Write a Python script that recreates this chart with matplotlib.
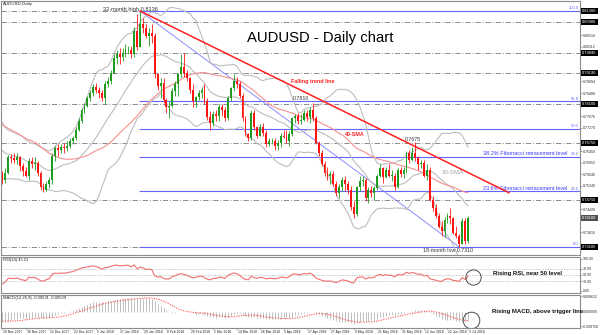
import numpy as np
import pandas as pd
import matplotlib
matplotlib.use("Agg")
import matplotlib.pyplot as plt
import matplotlib.transforms as mtransforms

plt.rcParams['font.family'] = ['Liberation Sans', 'DejaVu Sans']

# ---------------- data ----------------
warmup_close = [0.7970, 0.7935, 0.7875, 0.7830, 0.7845, 0.7840, 0.7815, 0.7840, 0.7855, 0.7800,
                0.7780, 0.7785, 0.7800, 0.7820, 0.7850, 0.7870, 0.7850, 0.7835, 0.7850, 0.7840,
                0.7800, 0.7785, 0.7760, 0.7700, 0.7675, 0.7665, 0.7680, 0.7650, 0.7680, 0.7690,
                0.7660, 0.7660, 0.7620, 0.7650, 0.7670, 0.7655, 0.7640, 0.7615, 0.7590, 0.7580,
                0.7565]

first_open = 0.7565
close = [0.7545, 0.7570, 0.7625, 0.7620, 0.7615, 0.7625, 0.7595, 0.7575, 0.7560, 0.7610,
         0.7600, 0.7605, 0.7570, 0.7520, 0.7510, 0.7530, 0.7545, 0.7630, 0.7655, 0.7650,
         0.7660, 0.7655, 0.7665, 0.7680, 0.7690, 0.7720, 0.7750, 0.7790, 0.7805, 0.7830,
         0.7850, 0.7870, 0.7860, 0.7850, 0.7830, 0.7880, 0.7890, 0.7920, 0.7970, 0.7985,
         0.7975, 0.7990, 0.8000, 0.8000, 0.7985, 0.8065, 0.8010, 0.8090, 0.8075, 0.8050,
         0.8060, 0.8050, 0.7915, 0.7875, 0.7885, 0.7825, 0.7800, 0.7805, 0.7855, 0.7880,
         0.7915, 0.7940, 0.7920, 0.7900, 0.7860, 0.7820, 0.7835, 0.7850, 0.7860, 0.7820,
         0.7765, 0.7745, 0.7775, 0.7770, 0.7800, 0.7790, 0.7760, 0.7830, 0.7865, 0.7890,
         0.7880, 0.7840, 0.7760, 0.7705, 0.7690, 0.7780, 0.7730, 0.7700, 0.7730, 0.7710,
         0.7670, 0.7680, 0.7680, 0.7665, 0.7675, 0.7700, 0.7695, 0.7680, 0.7705, 0.7760,
         0.7770, 0.7750, 0.7755, 0.7780, 0.7765, 0.7790, 0.7760, 0.7675, 0.7640, 0.7600,
         0.7570, 0.7560, 0.7565, 0.7530, 0.7500, 0.7520, 0.7545, 0.7530, 0.7510, 0.7450,
         0.7425, 0.7520, 0.7540, 0.7545, 0.7480, 0.7510, 0.7500, 0.7515, 0.7560, 0.7585,
         0.7555, 0.7580, 0.7560, 0.7560, 0.7520, 0.7580, 0.7565, 0.7580, 0.7640, 0.7615,
         0.7640, 0.7620, 0.7600, 0.7605, 0.7560, 0.7580, 0.7475, 0.7445, 0.7420, 0.7380,
         0.7365, 0.7405, 0.7420, 0.7410, 0.7360, 0.7350, 0.7320, 0.7400, 0.7330, 0.7410]

high = [0.7575, 0.7585, 0.7632, 0.7635, 0.7640, 0.7640, 0.7630, 0.7605, 0.7590, 0.7620,
        0.7625, 0.7625, 0.7610, 0.7575, 0.7535, 0.7540, 0.7555, 0.7640, 0.7665, 0.7670,
        0.7670, 0.7675, 0.7680, 0.7690, 0.7700, 0.7730, 0.7760, 0.7795, 0.7815, 0.7840,
        0.7860, 0.7880, 0.7885, 0.7870, 0.7860, 0.7890, 0.7905, 0.7930, 0.7985, 0.8000,
        0.8005, 0.8005, 0.8020, 0.8015, 0.8015, 0.8080, 0.8125, 0.8136, 0.8110, 0.8090,
        0.8075, 0.8090, 0.8060, 0.7920, 0.7900, 0.7900, 0.7830, 0.7820, 0.7865, 0.7890,
        0.7920, 0.7985, 0.7988, 0.7930, 0.7905, 0.7880, 0.7840, 0.7860, 0.7870, 0.7880,
        0.7830, 0.7785, 0.7785, 0.7790, 0.7810, 0.7810, 0.7800, 0.7840, 0.7870, 0.7917,
        0.7905, 0.7890, 0.7850, 0.7770, 0.7710, 0.7790, 0.7790, 0.7735, 0.7740, 0.7745,
        0.7720, 0.7690, 0.7690, 0.7690, 0.7685, 0.7710, 0.7720, 0.7720, 0.7715, 0.7765,
        0.7775, 0.7780, 0.7775, 0.7790, 0.7790, 0.7800, 0.7813, 0.7770, 0.7680, 0.7650,
        0.7610, 0.7590, 0.7575, 0.7575, 0.7540, 0.7530, 0.7555, 0.7560, 0.7540, 0.7525,
        0.7470, 0.7525, 0.7560, 0.7560, 0.7550, 0.7520, 0.7525, 0.7525, 0.7565, 0.7600,
        0.7590, 0.7590, 0.7600, 0.7580, 0.7570, 0.7585, 0.7590, 0.7590, 0.7645, 0.7650,
        0.7660, 0.7676, 0.7630, 0.7615, 0.7615, 0.7600, 0.7590, 0.7490, 0.7460, 0.7430,
        0.7400, 0.7415, 0.7430, 0.7445, 0.7415, 0.7385, 0.7355, 0.7410, 0.7410, 0.7420]

low = [0.7532, 0.7535, 0.7565, 0.7605, 0.7605, 0.7600, 0.7575, 0.7560, 0.7555, 0.7545,
       0.7585, 0.7580, 0.7560, 0.7510, 0.7501, 0.7505, 0.7515, 0.7530, 0.7610, 0.7630,
       0.7640, 0.7640, 0.7645, 0.7655, 0.7670, 0.7685, 0.7715, 0.7745, 0.7780, 0.7800,
       0.7820, 0.7840, 0.7850, 0.7830, 0.7820, 0.7810, 0.7870, 0.7880, 0.7915, 0.7950,
       0.7950, 0.7960, 0.7975, 0.7985, 0.7970, 0.7975, 0.8000, 0.8010, 0.8060, 0.8040,
       0.8015, 0.8025, 0.7900, 0.7860, 0.7830, 0.7815, 0.7780, 0.7760, 0.7800, 0.7840,
       0.7840, 0.7905, 0.7905, 0.7890, 0.7850, 0.7800, 0.7800, 0.7825, 0.7830, 0.7810,
       0.7755, 0.7720, 0.7735, 0.7750, 0.7750, 0.7770, 0.7750, 0.7755, 0.7820, 0.7855,
       0.7865, 0.7830, 0.7750, 0.7700, 0.7680, 0.7685, 0.7720, 0.7690, 0.7700, 0.7700,
       0.7660, 0.7665, 0.7670, 0.7650, 0.7650, 0.7660, 0.7690, 0.7675, 0.7665, 0.7700,
       0.7745, 0.7740, 0.7740, 0.7750, 0.7750, 0.7745, 0.7750, 0.7670, 0.7630, 0.7595,
       0.7560, 0.7545, 0.7530, 0.7525, 0.7490, 0.7480, 0.7505, 0.7505, 0.7495, 0.7440,
       0.7413, 0.7420, 0.7505, 0.7525, 0.7470, 0.7465, 0.7485, 0.7475, 0.7510, 0.7555,
       0.7535, 0.7550, 0.7555, 0.7540, 0.7510, 0.7515, 0.7555, 0.7550, 0.7570, 0.7605,
       0.7610, 0.7610, 0.7580, 0.7585, 0.7555, 0.7545, 0.7470, 0.7435, 0.7410, 0.7375,
       0.7350, 0.7345, 0.7395, 0.7390, 0.7355, 0.7340, 0.7310, 0.7320, 0.7320, 0.7325]

date_idx = [0, 8, 16, 24, 32, 40, 48, 56, 64, 72, 80, 88, 96, 104, 112, 120, 128, 136, 144, 152, 159]
date_labels = ["20 Nov 2017", "30 Nov 2017", "12 Dec 2017", "22 Dec 2017", "5 Jan 2018",
               "17 Jan 2018", "29 Jan 2018", "8 Feb 2018", "20 Feb 2018", "2 Mar 2018",
               "14 Mar 2018", "26 Mar 2018", "5 Apr 2018", "17 Apr 2018", "27 Apr 2018",
               "9 May 2018", "21 May 2018", "31 May 2018", "12 Jun 2018", "22 Jun 2018",
               "3 Jul 2018"]

hi_price, lo_price = 0.8136, 0.7310
hi_bar, lo_bar = 47, 156
fib_ratios = [0.0, 0.236, 0.382, 0.5, 0.618, 1.0]
fib_names = ["0.0", "23.6", "38.2", "50.0", "61.8", "100.0"]
level_prices = [0.8136, 0.8098, 0.7989, 0.7919, 0.7810, 0.7675, 0.7475, 0.7310]
trend_bars = [47, 173]
trend_prices = [0.8136, 0.7500]
price_ticks = [0.73210, 0.73616, 0.74022, 0.74428, 0.74834, 0.75240, 0.75646, 0.76052,
               0.76458, 0.76864, 0.77270, 0.77676, 0.78082, 0.78488, 0.78894, 0.79300,
               0.79706, 0.80112, 0.80518, 0.80924, 0.81330]
rsi_ticks = [0, 30, 50, 70, 100]
rsi_levels = [30, 50, 70]

# ---------------- indicators ----------------
allc = pd.Series(warmup_close + close)
nw = len(warmup_close)
sma20 = allc.rolling(20).mean()
sd20 = allc.rolling(20).std(ddof=0)
upper = (sma20 + 2 * sd20).values[nw:]
lower = (sma20 - 2 * sd20).values[nw:]
mid = sma20.values[nw:]
sma40 = allc.rolling(40).mean().values[nw:]
d = allc.diff()
gain = d.clip(lower=0).ewm(alpha=1 / 14, adjust=False).mean()
loss = (-d.clip(upper=0)).ewm(alpha=1 / 14, adjust=False).mean()
rsi = (100 - 100 / (1 + gain / loss)).values[nw:]
macd_s = allc.ewm(span=12, adjust=False).mean() - allc.ewm(span=26, adjust=False).mean()
sig_s = macd_s.rolling(9).mean()
macd = macd_s.values[nw:]
sig = sig_s.values[nw:]

close = np.array(close); high = np.array(high); low = np.array(low)
opens = np.r_[first_open, close[:-1]]
n = len(close)
idx = np.arange(n)

# ---------------- figure ----------------
W, H = 600, 335
fig = plt.figure(figsize=(6, 3.35), dpi=100)
fig.patch.set_facecolor('white')

def rect(x0, y0, x1, y1):
    return [x0 / W, 1 - y1 / H, (x1 - x0) / W, (y1 - y0) / H]

ax = fig.add_axes(rect(0.5, 1, 580, 255))
axr = fig.add_axes(rect(0.5, 257, 580, 293), sharex=ax)
axm = fig.add_axes(rect(0.5, 295, 580, 328), sharex=ax)

x0 = -0.68
x1 = (580 - 2) / 2.93
ax.set_xlim(x0, x1)
ax.set_ylim(0.72820, 0.81710)

GREEN = '#1f9b1f'
RED = '#ff1414'
GRID = '#6e6e6e'
BLUE = '#6464ff'

for a in (ax, axr, axm):
    for s in a.spines.values():
        s.set_color('#8c8c8c')
        s.set_linewidth(0.8)
    a.tick_params(axis='x', which='both', length=0, labelbottom=False)
    a.yaxis.tick_right()
    a.tick_params(axis='y', length=1.5, width=0.4, color='#555', labelsize=2.6,
                  labelcolor='#333', pad=0.8)

# horizontal dash-dot levels
for p in level_prices:
    ax.axhline(p, color=GRID, lw=0.55, ls=(0, (7, 2.5, 1.2, 2.5)), zorder=1)

# fibonacci lines
rng = hi_price - lo_price
btr = mtransforms.blended_transform_factory(ax.transAxes, ax.transData)
for r, nm in zip(fib_ratios, fib_names):
    p = lo_price + r * rng
    ax.hlines(p, hi_bar - 0.5, x1, color=BLUE, lw=0.8, zorder=2)
    ax.text(0.998, p + 0.0002, nm, transform=btr, ha='right', va='bottom',
            fontsize=3.0, color=BLUE)
ax.plot([hi_bar, lo_bar], [hi_price, lo_price], color='#8c8cff', lw=0.7, zorder=2)

# bands and MAs
ax.plot(idx, upper, color='#bdbdbd', lw=0.8, zorder=2)
ax.plot(idx, lower, color='#bdbdbd', lw=0.8, zorder=2)
ax.plot(idx, mid, color='#bdbdbd', lw=0.8, zorder=2)
ax.plot(idx, sma40, color='#f59090', lw=0.8, zorder=2)

# candles
up = close >= opens
cols = np.where(up, GREEN, RED)
ax.vlines(idx, low, high, colors=cols, lw=0.6, zorder=3)
body = np.maximum(np.abs(close - opens), 0.00008)
ax.bar(idx, body, bottom=np.minimum(opens, close), width=0.64, color=cols, lw=0, zorder=4)

# falling trend line
ax.plot(trend_bars, trend_prices, color='#ff2020', lw=1.1, zorder=5)

# price ticks (skip those hidden by boxes)
box_prices = level_prices + [close[-1]]
vis_ticks = [t for t in price_ticks if min(abs(t - b) for b in box_prices) > 0.0022]
ax.set_yticks(vis_ticks)
ax.set_yticklabels([f"{t:.5f}" for t in vis_ticks])

for p in level_prices:
    ax.text(1.004, p, f"{p:.5f}", transform=btr, ha='left', va='center', fontsize=2.9,
            color='white', bbox=dict(boxstyle='square,pad=0.25', fc='black', ec='none'),
            clip_on=False)
ax.text(1.004, close[-1], f"{close[-1]:.5f}", transform=btr, ha='left', va='center',
        fontsize=2.9, color='white', bbox=dict(boxstyle='square,pad=0.25', fc='#505050', ec='none'),
        clip_on=False)

# texts on main chart
ax.text(0.004, 0.997, "AUDUSD,Daily", transform=ax.transAxes, ha='left', va='top',
        fontsize=3.2, color='#222')
ax.text(34.5, 0.8140, "32-month high 0.8136", fontsize=4.1, color='#333', va='center')
ax.text(108.5, 0.8042, "AUDUSD - Daily chart", fontsize=10.7, color='black', ha='center', va='center')
ax.text(98.6, 0.7888, "Falling trend line", fontsize=3.9, color='#ff2020', va='center', fontweight='bold')
ax.text(99.3, 0.7828, "0.7810", fontsize=3.8, color='#333', va='center')
ax.text(117.0, 0.7702, "40-SMA", fontsize=3.9, color='#ff2020', va='center', fontweight='bold')
ax.text(137.5, 0.7685, "0.7675", fontsize=3.8, color='#333', va='center')
ax.text(150.2, 0.7569, "20-SMA", fontsize=4.4, color='#a8a8a8', va='center')
ax.text(164.2, lo_price + 0.382 * rng + 0.0002, "38.2% Fibonacci retracement level",
        fontsize=4.0, color='#3c3cff', va='bottom')
ax.text(164.2, lo_price + 0.236 * rng + 0.0002, "23.6% Fibonacci retracement level",
        fontsize=4.0, color='#3c3cff', va='bottom')
ax.text(143.7, 0.7296, "18-month low 0.7310", fontsize=3.8, color='#333', va='center')

# ---------------- RSI ----------------
axr.set_ylim(-6.25, 106.25)
for lv in rsi_levels:
    axr.axhline(lv, color='#9a9a9a', lw=0.5, ls=(0, (1, 1.5)))
axr.plot(idx, rsi, color='#f07070', lw=0.8)
axr.set_yticks(rsi_ticks)
axr.set_yticklabels([f"{t:.2f}" for t in rsi_ticks])
axr.text(0.004, 0.97, f"RSI(14) {rsi[-1]:.2f}", transform=axr.transAxes, ha='left', va='top',
         fontsize=3.0, color='#222')
axr.plot([n - 1 + 1.8], [rsi[-1] - 2], marker='o', ms=11, mfc='none', mec='#333', mew=0.6)
axr.text(167.6, 56, "Rising RSI, near 50 level", fontsize=4.3, fontweight='bold',
         color='#111', va='center')

# ---------------- MACD ----------------
M = np.nanmax(np.abs(macd))
axm.set_ylim(-1.12 * M, 1.18 * M)
axm.vlines(idx, 0, macd, colors='#b4b4b4', lw=0.6)
axm.plot(idx, sig, color='#ff5050', lw=0.8, ls=(0, (1, 1.2)))
mt = [-1.0 * M, 0.0, 1.1 * M]
axm.set_yticks(mt)
axm.set_yticklabels([f"{t:.6f}" for t in mt])
axm.text(0.004, 0.97, f"MACD(12,26,9) {macd[-1]:.5f} {sig[-1]:.5f}", transform=axm.transAxes,
         ha='left', va='top', fontsize=3.0, color='#222')
axm.plot([n - 1 + 1.0], [macd[-1] * 0.9], marker='o', ms=12, mfc='none', mec='#333', mew=0.6)
axm.text(167.2, 0.0004, "Rising MACD, above trigger line", fontsize=4.3, fontweight='bold',
         color='#111', va='center')

# date labels
dtr = mtransforms.blended_transform_factory(axm.transData, axm.transAxes)
for i, lab in zip(date_idx, date_labels):
    axm.text(i + 0.3, -0.05, lab, transform=dtr, ha='left', va='top', fontsize=2.45, color='#222',
             clip_on=False)
    axm.plot([i, i], [0, -0.04], transform=dtr, color='#555', lw=0.4, clip_on=False)

fig.savefig("out.png", dpi=100, facecolor='white')
